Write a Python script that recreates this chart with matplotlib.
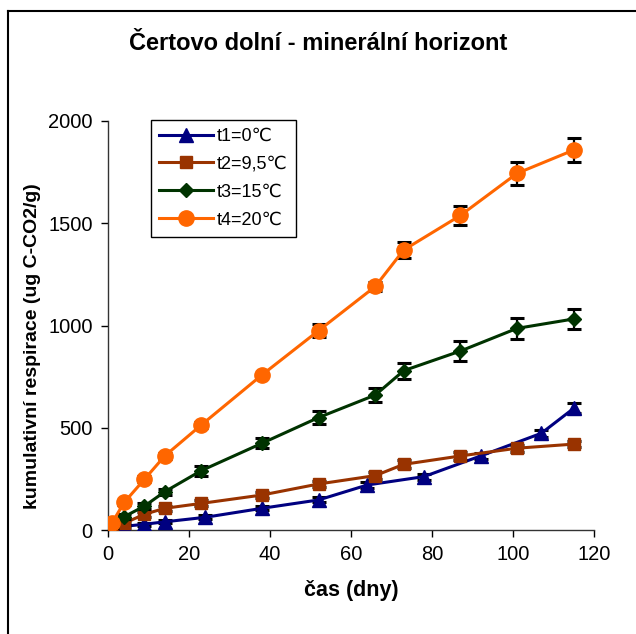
import matplotlib
matplotlib.use('Agg')
import matplotlib.pyplot as plt
from matplotlib.lines import Line2D

plt.rcParams['font.family'] = ['Liberation Sans', 'DejaVu Sans']

# --- data ---
dny_t1 = [1, 4, 9, 14, 24, 38, 52, 64, 78, 92, 107, 115]
resp_t1 = [5, 18, 28, 40, 62, 106, 147, 220, 261, 362, 473, 595]
err_t1 = [5, 6, 8, 8, 10, 10, 12, 15, 15, 15, 18, 25]

dny = [1, 4, 9, 14, 23, 38, 52, 66, 73, 87, 101, 115]
resp_t2 = [16, 33, 77, 106, 130, 171, 225, 266, 321, 362, 400, 420]
err_t2 = [8, 8, 12, 12, 15, 15, 15, 18, 20, 20, 18, 15]
resp_t3 = [20, 65, 117, 187, 290, 424, 550, 660, 779, 875, 986, 1032]
err_t3 = [8, 12, 15, 15, 25, 25, 30, 35, 40, 50, 50, 50]
resp_t4 = [35, 135, 248, 362, 513, 758, 975, 1191, 1369, 1538, 1744, 1858]
err_t4 = [10, 12, 15, 15, 15, 12, 30, 22, 37, 47, 55, 60]

popisky = ['t1=0℃', 't2=9,5℃', 't3=15℃', 't4=20℃']
barvy = ['#000080', '#993300', '#003300', '#FF6600']
znacky = ['^', 's', 'D', 'o']
velikosti = [9.5, 9, 7.5, 11]

serie = [(dny_t1, resp_t1, err_t1), (dny, resp_t2, err_t2),
         (dny, resp_t3, err_t3), (dny, resp_t4, err_t4)]

fig = plt.figure(figsize=(6.36, 6.34), dpi=100)
ax = fig.add_axes([108/636, 1 - 530/634, 486/636, 409/634])

# chybove usecky nejdriv, pak cary se znackami
for i, (x, y, e) in enumerate(serie):
    ax.errorbar(x, y, yerr=e, fmt='none', ecolor='black', elinewidth=1.6,
                capsize=5, capthick=2.2, zorder=2 + 2 * i)
    ax.plot(x, y, color=barvy[i], marker=znacky[i], markersize=velikosti[i],
            linewidth=2.2, label=popisky[i], zorder=3 + 2 * i)

ax.set_xlim(0, 120)
ax.set_ylim(0, 2000)
ax.set_xticks(range(0, 121, 20))
ax.set_yticks(range(0, 2001, 500))
ax.spines['top'].set_visible(False)
ax.spines['right'].set_visible(False)
for s in ['left', 'bottom']:
    ax.spines[s].set_linewidth(1.0)
    ax.spines[s].set_color('#333333')
ax.tick_params(direction='out', length=5, width=1, labelsize=14.5, pad=6)

ax.set_xlabel('čas (dny)', fontsize=15.5, fontweight='bold', labelpad=11)
ax.set_ylabel('kumulativní respirace (ug C-CO2/g)', fontsize=14,
              fontweight='bold')
ax.yaxis.set_label_coords(-0.138, 0.45)

fig.text(0.5, 1 - 44/634, 'Čertovo dolní - minerální horizont',
         ha='center', va='center', fontsize=17, fontweight='bold')

leg = ax.legend(loc='upper left', bbox_to_anchor=(0.07, 1.025), fontsize=13,
                frameon=True, fancybox=False, edgecolor='black', framealpha=1,
                handlelength=3.0, borderpad=0.45, labelspacing=0.6,
                handletextpad=0.2)
leg.get_frame().set_linewidth(1.0)
leg.set_zorder(20)

# ramecek kolem celeho grafu
fig.add_artist(Line2D([8/636, 1], [1 - 11/634] * 2, color='black', linewidth=1.5,
                      transform=fig.transFigure))
fig.add_artist(Line2D([8/636] * 2, [0, 1 - 11/634], color='black', linewidth=1.5,
                      transform=fig.transFigure))

fig.savefig('out.png', dpi=100)
